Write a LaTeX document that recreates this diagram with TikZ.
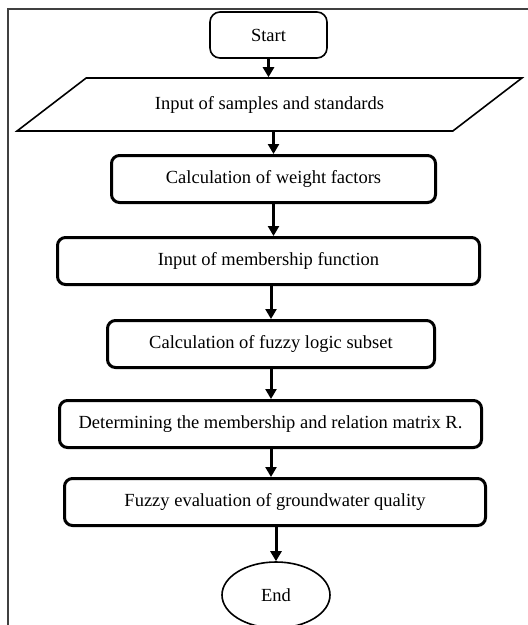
\documentclass[tikz,border=0pt]{standalone}
\usepackage{fontspec}
\setmainfont{Liberation Serif}
\usetikzlibrary{arrows.meta,shapes.geometric}
\begin{document}
\begin{tikzpicture}[x=1pt,y=-1pt,
    font=\fontsize{18.5}{22}\selectfont,
    terminal/.style={draw,line width=1.6pt,rounded corners=10pt},
    iobox/.style={draw,line width=1.6pt,trapezium,trapezium left angle=28,
        trapezium right angle=152,trapezium stretches=true},
    procbox/.style={draw,line width=3pt,rounded corners=8pt,minimum height=47pt},
    flow/.style={line width=3pt,-{Triangle[length=10pt,width=11pt]}}]
    \useasboundingbox (0,0) rectangle (528,625);
    \draw[line width=1.8pt,black!75] (8,625) -- (8,9) -- (528,9);
    \node[terminal,minimum width=117pt,minimum height=46pt] (start) at (268.5,35) {Start};
    \node[iobox,minimum width=507pt,minimum height=53pt] (input) at (269.5,104.5) {Input of samples and standards};
    \node[procbox,minimum width=324pt] (weight) at (273.5,179) {Calculation of weight factors};
    \node[procbox,minimum width=422pt] (member) at (268.5,261) {Input of membership function};
    \node[procbox,minimum width=327pt] (subset) at (271,344) {Calculation of fuzzy logic subset};
    \node[procbox,minimum width=422pt] (matrix) at (270.5,424) {Determining the membership and relation matrix R.};
    \node[procbox,minimum width=421pt] (evaluate) at (275,502) {Fuzzy evaluation of groundwater quality};
    \node[draw,ellipse,line width=1.6pt,minimum width=108pt,minimum height=66pt] (end) at (276,595) {End};
    \draw[flow] (start.south) -- (start.south |- input.north);
    \draw[flow] (weight.north |- input.south) -- (weight.north);
    \draw[flow] (weight.south) -- (weight.south |- member.north);
    \draw[flow] (subset.north |- member.south) -- (subset.north);
    \draw[flow] (subset.south) -- (subset.south |- matrix.north);
    \draw[flow] (subset.south |- matrix.south) -- (subset.south |- evaluate.north);
    \draw[flow] (evaluate.south -| end.north) -- (end.north);
\end{tikzpicture}
\end{document}
